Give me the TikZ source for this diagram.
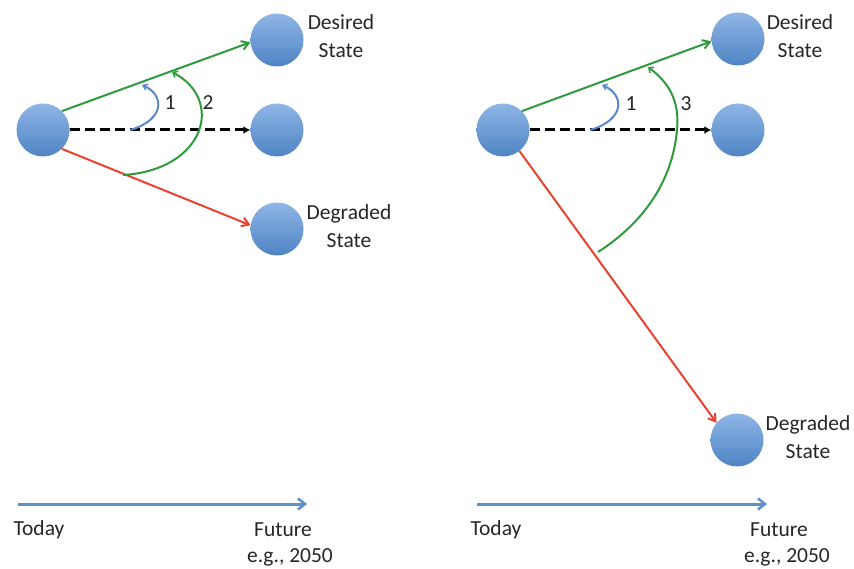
\documentclass[tikz,border=0pt]{standalone}
\usepackage{fontspec}
\setmainfont{Carlito}
\usetikzlibrary{arrows.meta}
\definecolor{ballhi}{HTML}{8FB5E6}
\definecolor{balllo}{HTML}{4F84C4}
\definecolor{ggreen}{HTML}{2E9A3C}
\definecolor{rred}{HTML}{E8432E}
\definecolor{barc}{HTML}{5B88C6}
\definecolor{tline}{HTML}{5E90C9}
\definecolor{txt}{HTML}{262626}
\tikzset{
  ball/.style={circle,minimum size=53pt,inner sep=0pt,top color=ballhi,bottom color=balllo,draw=none},
  lbl/.style={text=txt,font=\fontsize{21.5}{28}\selectfont,align=center,inner sep=0pt},
  garr/.style={ggreen,line width=2pt,-{Straight Barb[length=7pt,width=9pt,line width=2pt]}},
  rarr/.style={rred,line width=2pt,-{Straight Barb[length=7pt,width=9pt,line width=2pt]}},
  darr/.style={black,line width=3pt,dash pattern=on 10pt off 5pt,-{Latex[length=7pt,width=8pt]}},
  barr/.style={barc,line width=2pt,-{Straight Barb[length=4pt,width=6pt,line width=1.5pt]}},
  gcurve/.style={ggreen,line width=2pt,-{Straight Barb[length=4pt,width=7pt,line width=1.5pt]}},
  tarr/.style={tline,line width=3pt,-{Straight Barb[length=7pt,width=11pt,line width=2.5pt]}},
}
\begin{document}
\begin{tikzpicture}[x=1pt,y=-1pt]
\useasboundingbox (0,0) rectangle (854,569);
% left panel
\node[ball] (L0) at (43,130) {};
\node[ball] (LD) at (277,40) {};
\node[ball] (LM) at (277,130) {};
\node[ball] (LG) at (277,229) {};
\node[lbl] (LDt) at (341,36) {Desired\\State};
\node[lbl] (LGt) at (349,226) {Degraded\\State};
\draw[garr] (L0.45) -- (LD.185);
\draw[rarr] (L0.-45) -- (LG.172);
\draw[darr] (L0) -- (LM);
\coordinate (La1) at (130,130);
\coordinate (Lb1) at (142,85);
\draw[barr] (La1) .. controls (165,120) and (165,95) .. (Lb1);
\coordinate (La2) at (123,175);
\coordinate (Lb2) at (172,72);
\draw[gcurve] (La2) .. controls (205,170) and (225,100) .. (Lb2);
\node[lbl] (Ln1) at (170,103) {1};
\node[lbl] (Ln2) at (208,103) {2};
% right panel
\node[ball] (R0) at (503,130) {};
\node[ball] (RD) at (738,39) {};
\node[ball] (RM) at (738,130) {};
\node[ball] (RG) at (737,440) {};
\node[lbl] (RDt) at (800,36) {Desired\\State};
\node[lbl] (RGt) at (808,437) {Degraded\\State};
\draw[garr] (R0.45) -- (RD.185);
\draw[rarr] (R0.-52) -- (RG.140);
\draw[darr] (R0) -- (RM);
\coordinate (Ra1) at (590,130);
\coordinate (Rb1) at (602,85);
\draw[barr] (Ra1) .. controls (625,120) and (625,95) .. (Rb1);
\coordinate (Ra3) at (598,252);
\coordinate (Rm3) at (677,130);
\coordinate (Rb3) at (648,67);
\draw[gcurve] (Ra3) .. controls (640,225) and (672,185) .. (Rm3) .. controls (680,100) and (668,82) .. (Rb3);
\node[lbl] (Rn1) at (631,104) {1};
\node[lbl] (Rn3) at (686,104) {3};
% timelines
\coordinate (Lt0) at (18,504);
\coordinate (Lt1) at (307,504);
\draw[tarr] (Lt0) -- (Lt1);
\node[lbl] (Ltoday) at (39,530) {Today};
\node[lbl] (Lfut) at (283,530) {Future};
\node[lbl] (Leg) at (290,557) {e.g., 2050};
\coordinate (Rt0) at (477,504);
\coordinate (Rt1) at (767,504);
\draw[tarr] (Rt0) -- (Rt1);
\node[lbl] (Rtoday) at (496,530) {Today};
\node[lbl] (Rfut) at (779,530) {Future};
\node[lbl] (Reg) at (787,557) {e.g., 2050};
\end{tikzpicture}
\end{document}
